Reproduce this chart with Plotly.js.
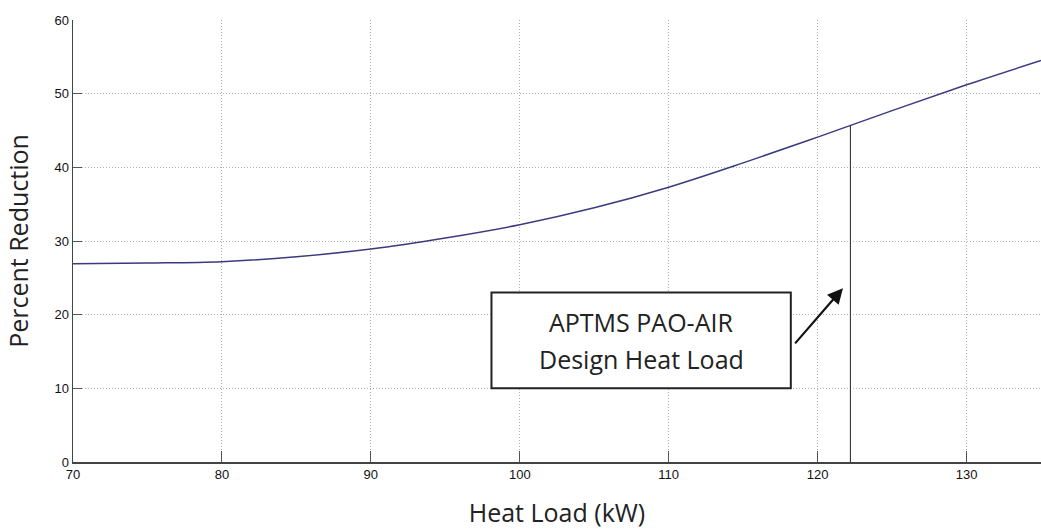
<!DOCTYPE html>
<html>
<head>
<meta charset="utf-8">
<script src="https://cdn.plot.ly/plotly-3.0.1.min.js"></script>
<style>html,body{margin:0;padding:0;background:#fff;}#chart{width:1041px;height:531px;}</style>
</head>
<body>
<div id="chart"></div>
<script>
// Data
const heatLoad = [70, 75, 80, 85, 90, 95, 100, 105, 110, 115, 120, 125, 130, 135];
const percentReduction = [26.9, 27.0, 27.2, 27.85, 28.9, 30.4, 32.2, 34.5, 37.3, 40.6, 44.1, 47.7, 51.2, 54.5];
const designLoadX = [122.2, 122.2];
const designLoadY = [0, 45.7];
const xTicks = [70, 80, 90, 100, 110, 120, 130];
const yTicks = [0, 10, 20, 30, 40, 50, 60];
const boxLine1 = 'APTMS PAO-AIR';
const boxLine2 = 'Design Heat Load';
const boxX = [98.1, 118.2];
const boxY = [10.0, 23.0];
const arrowTail = [118.4, 15.9];
const arrowHead = [121.7, 23.6];

const traces = [
  {x: heatLoad, y: percentReduction, type: 'scatter', mode: 'lines', line: {color: '#3a3a80', width: 1.5, shape: 'spline', smoothing: 1}, hoverinfo: 'skip'},
  {x: designLoadX, y: designLoadY, type: 'scatter', mode: 'lines', line: {color: '#222', width: 1}, hoverinfo: 'skip'}
];

const tickFont = {family: 'Liberation Sans, Arial, sans-serif', size: 13, color: '#111'};
const titleFont = {family: 'Open Sans, Lato, sans-serif', size: 25, color: '#222'};
const boxFont = {family: 'Open Sans, Lato, sans-serif', size: 25, color: '#222'};
const midX = (boxX[0] + boxX[1]) / 2;
const midY = (boxY[0] + boxY[1]) / 2;

const layout = {
  width: 1041, height: 531,
  margin: {l: 73, r: 0, t: 20, b: 69},
  paper_bgcolor: '#fff', plot_bgcolor: '#fff',
  showlegend: false,
  xaxis: {
    range: [70, 135], tickvals: xTicks, ticktext: xTicks.map(String),
    ticks: 'inside', ticklen: 11, tickcolor: '#555', tickwidth: 1,
    showline: true, linecolor: '#444', linewidth: 1.5, mirror: false,
    showgrid: true, gridcolor: '#b0b0b0', griddash: '1px,2px', gridwidth: 1,
    zeroline: false, tickfont: tickFont,
    title: {text: 'Heat Load (kW)', font: titleFont, standoff: 23}
  },
  yaxis: {
    range: [0, 60], tickvals: yTicks, ticktext: yTicks.map(String),
    ticks: 'inside', ticklen: 9, tickcolor: '#555', tickwidth: 1,
    showline: true, linecolor: '#444', linewidth: 1.5, mirror: false,
    showgrid: true, gridcolor: '#b0b0b0', griddash: '1px,2px', gridwidth: 1,
    zeroline: false, tickfont: tickFont,
    title: {text: 'Percent Reduction', font: titleFont, standoff: 18}
  },
  shapes: [
    {type: 'rect', xref: 'x', yref: 'y', x0: boxX[0], x1: boxX[1], y0: boxY[0], y1: boxY[1],
     line: {color: '#222', width: 2}, fillcolor: '#fff', layer: 'above'}
  ],
  annotations: [
    {xref: 'x', yref: 'y', x: midX, y: midY, yshift: 18, text: boxLine1,
     showarrow: false, font: boxFont, align: 'center'},
    {xref: 'x', yref: 'y', x: midX, y: midY, yshift: -19, text: boxLine2,
     showarrow: false, font: boxFont, align: 'center'},
    {xref: 'x', yref: 'y', axref: 'x', ayref: 'y', x: arrowHead[0], y: arrowHead[1], ax: arrowTail[0], ay: arrowTail[1],
     text: '', showarrow: true, arrowhead: 2, arrowsize: 1.4, arrowwidth: 2.2, arrowcolor: '#111'}
  ]
};

Plotly.newPlot('chart', traces, layout, {staticPlot: true, displayModeBar: false});
</script>
</body>
</html>
